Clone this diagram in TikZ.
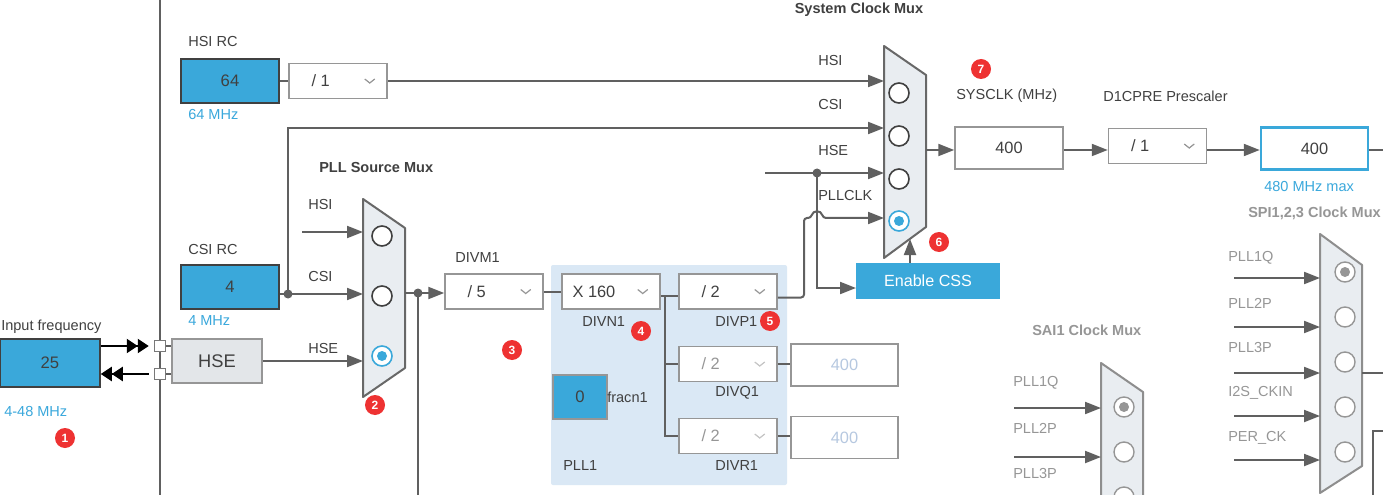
\documentclass[tikz,border=0pt]{standalone}
\usepackage{fontspec}
\setmainfont{Liberation Sans}
\usetikzlibrary{arrows.meta}
\definecolor{cubeblue}{RGB}{58,168,218}
\definecolor{wiregray}{RGB}{96,96,96}
\definecolor{txtdark}{RGB}{64,64,64}
\definecolor{txtblue}{RGB}{58,168,220}
\definecolor{pllbg}{RGB}{218,232,245}
\definecolor{muxfill}{RGB}{233,237,241}
\definecolor{muxedge}{RGB}{104,104,104}
\definecolor{hsefill}{RGB}{227,230,233}
\definecolor{boxedge}{RGB}{150,150,150}
\definecolor{offtext}{RGB}{150,150,150}
\definecolor{offnum}{RGB}{182,200,224}
\definecolor{badgered}{RGB}{238,50,50}
\def\px{0.75pt}
% dropdown selector: [text offset] name, centre, text, text colour
\newcommand{\dropbox}[5][23]{%
  \node[ddbox] (#2) at (#3) {};
  \node[ddtext,text=#5] (#2-t) at ([xshift=#1*\px]#2.west) {#4};
  \draw[chev,draw=#5!55!white] ([xshift=-23*\px,yshift=2*\px]#2.east) -- ++(5,4) -- ++(5,-4);}
\begin{document}
\begin{tikzpicture}[x=\px,y=-\px,
  wire/.style={draw=wiregray,line width=2*\px},
  arr/.style={wire,-{Triangle[length=16*\px,width=12*\px]}},
  dblarr/.style={draw=black,line width=2.2*\px,-{Triangle[length=11*\px,width=14*\px]Triangle[length=11*\px,width=14*\px]}},
  jdot/.style={circle,fill=wiregray,inner sep=0pt,minimum size=9*\px},
  lbl/.style={anchor=west,inner sep=0pt,text=txtdark,font=\fontsize{10.9}{13}\selectfont},
  lblB/.style={lbl,text=txtblue},
  lblOff/.style={lbl,text=offtext},
  title/.style={lbl,font=\fontsize{10.9}{13}\selectfont\bfseries},
  titleOff/.style={title,text=offtext},
  srcbox/.style={draw=txtdark,fill=cubeblue,line width=1.5*\px,inner sep=0pt,minimum width=98*\px,minimum height=44*\px,text=txtdark,font=\fontsize{12.5}{14}\selectfont},
  ddbox/.style={draw=boxedge,fill=white,line width=1.5*\px,minimum width=98*\px,minimum height=35*\px,inner sep=0pt},
  ddtext/.style={anchor=west,inner sep=0pt,font=\fontsize{12.3}{14}\selectfont},
  chev/.style={line width=1.2*\px},
  valbox/.style={draw=boxedge,fill=white,line width=1.5*\px,minimum width=107*\px,minimum height=42*\px,inner sep=0pt,text=txtdark,font=\fontsize{12.3}{14}\selectfont},
  mux/.style={draw=muxedge,fill=muxfill,line width=2*\px,line join=round},
  muxOff/.style={mux,draw=muxedge!75!white},
  optring/.style={circle,draw=txtdark,fill=white,line width=1.6*\px,minimum size=20*\px,inner sep=0pt},
  selring/.style={optring,draw=cubeblue},
  seldot/.style={circle,fill=cubeblue,minimum size=10*\px,inner sep=0pt},
  offring/.style={optring,draw=offtext,line width=1.4*\px},
  offdot/.style={seldot,fill=offtext},
  badge/.style={circle,fill=badgered,text=white,minimum size=20*\px,inner sep=0pt,font=\fontsize{9}{10}\selectfont\bfseries},
  port/.style={draw=boxedge!80!black,fill=white,line width=1.5*\px,minimum size=11*\px,inner sep=0pt}]
\useasboundingbox (0,0) rectangle (1383,495);
\fill[white] (0,0) rectangle (1383,495);

\coordinate (railT) at (160,0);
\coordinate (railB) at (160,495);
\coordinate (edgeR) at (1383,0);
\draw[wire,line width=1.6*\px] (railT) -- (railB);

\fill[pllbg,rounded corners=2*\px] (551,265) rectangle (787,485);

% oscillators
\node[lbl] (hsirc-l) at (188,42) {HSI RC};
\node[srcbox] (hsirc) at (230,81) {64};
\node[lblB] (hsirc-f) at (188,114) {64 MHz};
\dropbox{hsidiv}{338,81}{/ 1}{txtdark}
\draw[wire] (hsirc.east) -- (hsidiv.west);

\node[lbl] (csirc-l) at (188,249) {CSI RC};
\node[srcbox] (csirc) at (230,287) {4};
\node[lblB] (csirc-f) at (188,320) {4 MHz};

\node[lbl] (infreq-l) at (1,327) {Input frequency};
\node[srcbox,minimum width=100*\px,minimum height=48*\px] (infreq) at (50,363) {25};
\node[lblB] (infreq-f) at (4,411) {4-48 MHz};
\node[badge] (b1) at (65,438) {1};

\node[port] (sq1) at (160,346) {};
\node[port] (sq2) at (160,374) {};
\node[draw=boxedge,fill=hsefill,line width=1.5*\px,minimum width=90*\px,minimum height=44*\px,text=txtdark,font=\fontsize{13.7}{16}\selectfont] (hse) at (217,361) {HSE};
\draw[dblarr,shorten >=5*\px] (infreq.east |- sq1) -- (sq1.west);
\draw[dblarr,shorten <=5*\px] (sq2.west) -- (sq2.west -| infreq.east);
\draw[wire,line width=1.5*\px] (sq1.east) -- (sq1.east -| hse.west);
\draw[wire,line width=1.5*\px] (sq2.east) -- (sq2.east -| hse.west);

% PLL source mux
\node[title] (pm-t) at (319,167) {PLL Source Mux};
\draw[mux] (363,199) -- (405,228) -- (405,368) -- (363,397) -- cycle;
\node[optring] (pm1) at (382,236) {};
\node[optring] (pm2) at (382,296) {};
\node[selring] (pm3) at (382,356) {};
\node[seldot] (pm3d) at (pm3) {};
\coordinate (pmHSI) at (302,232);
\coordinate (pmI1) at (363,232);
\coordinate (pmI2) at (363,294);
\coordinate (pmI3) at (363,361);
\coordinate (pmO) at (405,293);
\node[lbl] (pm-l1) at (308,204) {HSI};
\node[lbl] (pm-l2) at (308,276) {CSI};
\node[lbl] (pm-l3) at (308,348) {HSE};
\draw[arr] (pmHSI) -- (pmI1);
\node[jdot] (jcsi) at (288,294) {};
\draw[arr] (csirc.east |- pmI2) -- (pmI2);
\draw[arr] (hse.east |- pmI3) -- (pmI3);
\node[badge] (b2) at (375,405) {2};

% system clock mux
\node[title,anchor=center] (sm-t) at (859,10) {System Clock Mux};
\draw[mux] (884,46) -- (926,75) -- (926,227) -- (884,258) -- cycle;
\node[optring] (sm1) at (899,93) {};
\node[optring] (sm2) at (899,136) {};
\node[optring] (sm3) at (899,179) {};
\node[selring] (sm4) at (899,221) {};
\node[seldot] (sm4d) at (sm4) {};
\coordinate (smI1) at (884,81);
\coordinate (smI2) at (884,128);
\coordinate (smI3) at (884,173);
\coordinate (smI4) at (884,218);
\coordinate (smO) at (926,150);
\coordinate (smB) at (910,239);
\node[lbl] (sm-l1) at (818,60) {HSI};
\node[lbl] (sm-l2) at (818,104) {CSI};
\node[lbl] (sm-l3) at (818,150) {HSE};
\node[lbl] (sm-l4) at (818,195) {PLLCLK};
\draw[arr] (hsidiv.east) -- (smI1);
\draw[arr] (jcsi.center) -- (jcsi.center |- smI2) -- (smI2);
\coordinate (hseIn) at (765,173);
\node[jdot] (jhse) at (817,173) {};
\draw[arr] (hseIn) -- (smI3);

\node[fill=cubeblue,minimum width=144*\px,minimum height=36*\px,text=white,font=\fontsize{12.1}{14}\selectfont] (css) at (928,281) {Enable CSS};
\coordinate (cssIn) at (856,288);
\draw[arr] (jhse.center) -- (jhse.center |- cssIn) -- (cssIn);
\draw[arr] (css.north -| smB) -- (smB);
\node[badge] (b6) at (939,242) {6};

% SYSCLK and D1CPRE
\node[badge] (b7) at (981,69) {7};
\node[lbl] (sys-l) at (956,96) {SYSCLK (MHz)};
\node[valbox,minimum width=108*\px] (sysclk) at (1009,148) {400};
\draw[arr] (smO) -- (smO -| sysclk.west);
\node[lbl] (d1-l) at (1103,96) {D1CPRE Prescaler};
\dropbox{d1cpre}{1157.5,146}{/ 1}{txtdark}
\draw[arr] (sysclk.east |- smO) -- (smO -| d1cpre.west);
\node[valbox,draw=cubeblue,line width=2.5*\px] (hclk) at (1314.5,148.5) {400};
\draw[arr] (d1cpre.east |- smO) -- (smO -| hclk.west);
\draw[wire] (hclk.east |- smO) -- (smO -| edgeR);
\node[lblB] (hclk-f) at (1264,186) {480 MHz max};

% PLL1
\node[lbl] (divm-l) at (455,258) {DIVM1};
\dropbox{divm}{494,291.5}{/ 5}{txtdark}
\node[jdot] (jpll) at (418,293) {};
\coordinate (pllDown) at (418,495);
\draw[arr] (pmO) -- (pmO -| divm.west);
\draw[wire] (jpll.center) -- (pllDown);
\node[badge] (b3) at (512,350) {3};

\dropbox[11]{divn}{611,291.5}{X 160}{txtdark}
\draw[wire] (divm.east) -- (divn.west);
\node[lbl] (divn-l) at (582,321) {DIVN1};
\node[badge] (b4) at (641,331) {4};
\dropbox{divp}{728,291.5}{/ 2}{txtdark}
\node[lbl] (divp-l) at (715,321) {DIVP1};
\node[badge] (b5) at (770,321) {5};
\dropbox{divq}{728,364}{/ 2}{offtext}
\node[lbl] (divq-l) at (715,393) {DIVQ1};
\dropbox{divr}{728,436}{/ 2}{offtext}
\node[lbl] (divr-l) at (715,465) {DIVR1};
\coordinate (nsplit) at (665,296);
\draw[wire] ([yshift=-4.5*\px]divn.east) -- ([yshift=-4.5*\px]divp.west);
\draw[wire] (nsplit) |- (divq.west);
\draw[wire] (nsplit) |- (divr.west);
\node[valbox,text=offnum] (q400) at (844.5,365) {400};
\draw[wire] (divq.east) -- (divq.east -| q400.west);
\node[valbox,text=offnum] (r400) at (844.5,437.5) {400};
\draw[wire] (divr.east) -- (divr.east -| r400.west);
\node[srcbox,draw=boxedge,minimum width=54*\px] (fracn) at (580,397) {0};
\node[lbl] (fracn-l) at (607,397) {fracn1};
\node[lbl] (pll-l) at (563,465) {PLL1};

\coordinate (bend) at (804,218);
\coordinate (hopA) at (811,218);
\coordinate (hopB) at (823,218);
\draw[arr,rounded corners=3*\px] ([yshift=-6*\px]divp.east) -| (bend) -- (hopA) .. controls +(2,-8) and +(-2,-8) .. (hopB) -- (smI4);

% SAI1 clock mux
\node[titleOff] (sai-t) at (1032,330) {SAI1 Clock Mux};
\draw[muxOff] (1101,363) -- (1143,392) -- (1143,560) -- (1101,590) -- cycle;
\node[offring] (sai1) at (1124,407) {};
\node[offdot] (sai1d) at (sai1) {};
\node[offring] (sai2) at (1124,452) {};
\node[offring] (sai3) at (1124,497) {};
\coordinate (saiS1) at (1014,408);
\coordinate (saiI1) at (1101,408);
\coordinate (saiS2) at (1014,457);
\coordinate (saiI2) at (1101,457);
\node[lblOff] (sai-l1) at (1013,383) {PLL1Q};
\node[lblOff] (sai-l2) at (1013,428) {PLL2P};
\node[lblOff] (sai-l3) at (1013,473) {PLL3P};
\draw[arr] (saiS1) -- (saiI1);
\draw[arr] (saiS2) -- (saiI2);

% SPI1,2,3 clock mux
\node[titleOff] (spi-t) at (1248,213) {SPI1,2,3 Clock Mux};
\draw[muxOff] (1320,234) -- (1362,265) -- (1362,466) -- (1320,493) -- cycle;
\node[offring] (spi1) at (1345,272) {};
\node[offdot] (spi1d) at (spi1) {};
\node[offring] (spi2) at (1345,317) {};
\node[offring] (spi3) at (1345,362) {};
\node[offring] (spi4) at (1345,407) {};
\node[offring] (spi5) at (1345,452) {};
\node[lblOff] (spi-l1) at (1228,258) {PLL1Q};
\node[lblOff] (spi-l2) at (1228,303) {PLL2P};
\node[lblOff] (spi-l3) at (1228,347) {PLL3P};
\node[lblOff] (spi-l4) at (1228,393) {I2S\_CKIN};
\node[lblOff] (spi-l5) at (1228,438) {PER\_CK};
\coordinate (spiS1) at (1234,278);
\coordinate (spiI1) at (1320,278);
\coordinate (spiS2) at (1234,327);
\coordinate (spiI2) at (1320,327);
\coordinate (spiS3) at (1234,373);
\coordinate (spiI3) at (1320,373);
\coordinate (spiS4) at (1234,416);
\coordinate (spiI4) at (1320,416);
\coordinate (spiS5) at (1234,460);
\coordinate (spiI5) at (1320,460);
\draw[arr] (spiS1) -- (spiI1);
\draw[arr] (spiS2) -- (spiI2);
\draw[arr] (spiS3) -- (spiI3);
\draw[arr] (spiS4) -- (spiI4);
\draw[arr] (spiS5) -- (spiI5);
\coordinate (spiO) at (1362,373);
\draw[wire] (spiO) -- (spiO -| edgeR);
\coordinate (nextT) at (1373,431);
\coordinate (nextB) at (1373,495);
\draw[wire] (nextB) -- (nextT) -- (nextT -| edgeR);
\end{tikzpicture}
\end{document}
